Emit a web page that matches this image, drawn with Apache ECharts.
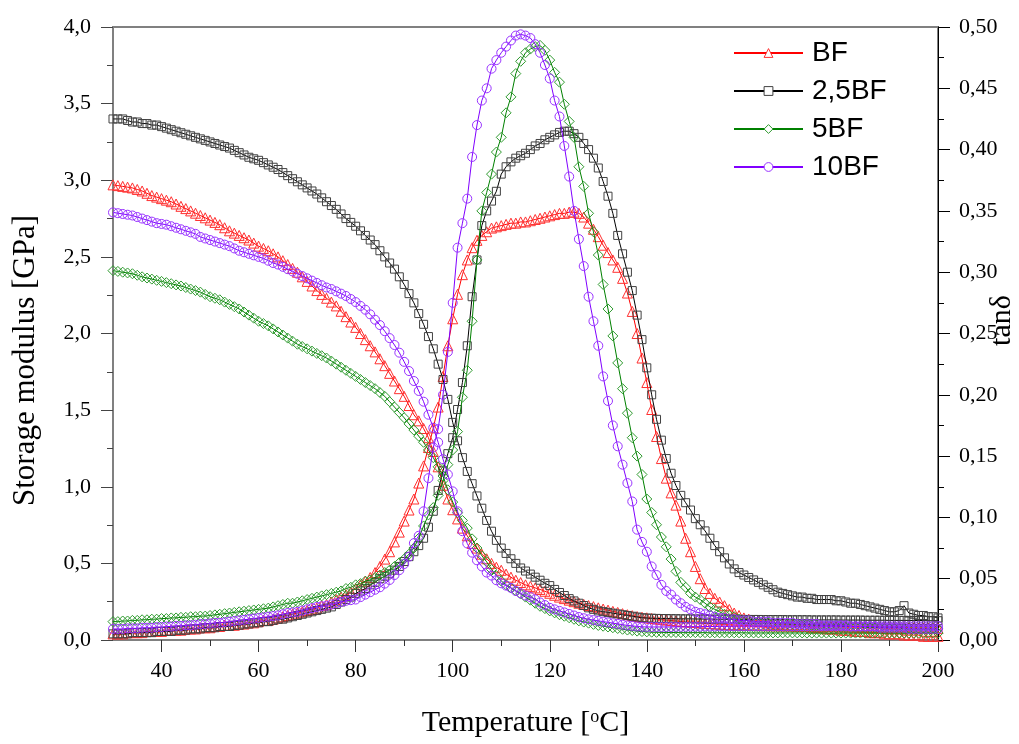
<!DOCTYPE html>
<html>
<head>
<meta charset="utf-8">
<script src="https://cdn.jsdelivr.net/npm/echarts@6/dist/echarts.min.js"></script>
<style>html,body{margin:0;padding:0;background:#fff}#c{width:1019px;height:744px}</style>
</head>
<body>
<div id="c"></div>
<script>
// Temperature grid [°C]
var temps = [30,31,32,33,34,35,36,37,38,39,40,41,42,43,44,45,46,47,48,49,50,51,52,53,54,55,56,57,58,59,60,61,62,63,64,65,66,67,68,69,70,71,72,73,74,75,76,77,78,79,80,81,82,83,84,85,86,87,88,89,90,91,92,93,94,95,96,97,98,99,100,101,102,103,104,105,106,107,108,109,110,111,112,113,114,115,116,117,118,119,120,121,122,123,124,125,126,127,128,129,130,131,132,133,134,135,136,137,138,139,140,141,142,143,144,145,146,147,148,149,150,151,152,153,154,155,156,157,158,159,160,161,162,163,164,165,166,167,168,169,170,171,172,173,174,175,176,177,178,179,180,181,182,183,184,185,186,187,188,189,190,191,192,193,194,195,196,197,198,199,200];

var seriesNames = ['BF', '2,5BF', '5BF', '10BF'];

// Storage modulus [GPa]
var modBF = [2.97,2.965,2.96,2.955,2.95,2.94,2.93,2.915,2.90,2.89,
2.88,2.87,2.86,2.845,2.83,2.815,2.80,2.785,2.77,2.755,
2.74,2.725,2.71,2.69,2.67,2.655,2.64,2.625,2.61,2.59,
2.57,2.555,2.54,2.52,2.50,2.475,2.45,2.425,2.40,2.37,
2.34,2.31,2.28,2.255,2.23,2.205,2.18,2.145,2.11,2.075,
2.04,2.00,1.96,1.92,1.88,1.835,1.79,1.74,1.69,1.64,
1.59,1.53,1.47,1.43,1.38,1.32,1.23,1.13,1.01,0.92,
0.85,0.79,0.73,0.68,0.63,0.60,0.56,0.53,0.50,0.475,
0.455,0.43,0.41,0.39,0.375,0.36,0.35,0.34,0.33,0.318,
0.305,0.292,0.28,0.27,0.26,0.25,0.24,0.232,0.225,0.218,
0.21,0.202,0.195,0.187,0.18,0.172,0.165,0.159,0.153,0.149,
0.145,0.141,0.137,0.133,0.13,0.127,0.124,0.121,0.118,0.116,
0.114,0.111,0.109,0.107,0.105,0.103,0.101,0.099,0.098,0.097,
0.096,0.095,0.095,0.094,0.094,0.093,0.093,0.092,0.092,0.091,
0.091,0.09,0.09,0.089,0.089,0.088,0.088,0.087,0.087,0.086,
0.086,0.085,0.085,0.084,0.084,0.083,0.083,0.082,0.082,0.081,
0.081,0.08,0.08,0.079,0.079,0.078,0.078,0.077,0.077,0.076,0.076];

var mod25BF = [3.40,3.40,3.40,3.39,3.38,3.38,3.37,3.37,3.36,3.36,
3.35,3.34,3.33,3.32,3.31,3.30,3.29,3.28,3.27,3.26,
3.25,3.24,3.23,3.22,3.21,3.195,3.18,3.165,3.15,3.14,
3.13,3.115,3.10,3.085,3.07,3.05,3.03,3.01,2.99,2.97,
2.95,2.93,2.91,2.885,2.86,2.835,2.81,2.78,2.75,2.725,
2.70,2.67,2.64,2.61,2.58,2.54,2.50,2.46,2.42,2.37,
2.32,2.26,2.20,2.13,2.06,1.98,1.90,1.80,1.70,1.57,
1.42,1.30,1.19,1.10,1.02,0.94,0.86,0.78,0.71,0.65,
0.60,0.565,0.53,0.50,0.47,0.45,0.43,0.41,0.39,0.37,
0.355,0.33,0.31,0.29,0.27,0.255,0.24,0.225,0.21,0.20,
0.19,0.185,0.18,0.175,0.17,0.165,0.16,0.155,0.15,0.145,
0.143,0.142,0.141,0.14,0.14,0.139,0.139,0.138,0.138,0.138,
0.137,0.137,0.137,0.136,0.136,0.136,0.135,0.135,0.135,0.135,
0.134,0.134,0.134,0.134,0.133,0.133,0.133,0.133,0.133,0.132,
0.132,0.132,0.132,0.132,0.131,0.131,0.131,0.131,0.131,0.131,
0.130,0.130,0.130,0.130,0.130,0.129,0.129,0.129,0.129,0.129,
0.128,0.128,0.128,0.128,0.128,0.127,0.127,0.127,0.127,0.127,0.126];

var mod5BF = [2.41,2.405,2.40,2.395,2.39,2.38,2.37,2.362,2.355,2.347,
2.34,2.332,2.325,2.317,2.31,2.30,2.29,2.28,2.27,2.255,
2.24,2.23,2.22,2.205,2.19,2.175,2.16,2.14,2.12,2.10,
2.08,2.065,2.05,2.03,2.01,1.99,1.97,1.95,1.93,1.915,
1.90,1.885,1.87,1.855,1.84,1.82,1.80,1.78,1.76,1.74,
1.72,1.70,1.68,1.66,1.64,1.615,1.59,1.555,1.52,1.485,
1.45,1.41,1.37,1.33,1.29,1.24,1.19,1.13,1.07,0.98,
0.90,0.83,0.78,0.73,0.66,0.60,0.55,0.51,0.46,0.42,
0.385,0.36,0.34,0.32,0.30,0.28,0.26,0.24,0.22,0.205,
0.19,0.177,0.165,0.155,0.145,0.135,0.125,0.117,0.11,0.102,
0.095,0.09,0.085,0.08,0.075,0.07,0.065,0.062,0.058,0.055,
0.053,0.051,0.05,0.05,0.049,0.049,0.049,0.048,0.048,0.048,
0.048,0.048,0.048,0.047,0.047,0.047,0.047,0.047,0.047,0.047,
0.047,0.046,0.046,0.046,0.046,0.046,0.046,0.046,0.046,0.046,
0.046,0.046,0.046,0.045,0.045,0.045,0.045,0.045,0.045,0.045,
0.045,0.045,0.045,0.045,0.045,0.045,0.045,0.045,0.045,0.045,
0.045,0.045,0.045,0.045,0.045,0.045,0.045,0.045,0.045,0.045,0.045];

var mod10BF = [2.79,2.785,2.78,2.775,2.77,2.76,2.75,2.74,2.73,2.72,
2.715,2.71,2.70,2.69,2.68,2.67,2.66,2.65,2.63,2.62,
2.61,2.60,2.59,2.58,2.57,2.555,2.54,2.53,2.52,2.51,
2.50,2.49,2.475,2.46,2.45,2.435,2.42,2.405,2.39,2.375,
2.36,2.345,2.33,2.315,2.30,2.29,2.275,2.26,2.245,2.225,
2.205,2.18,2.155,2.125,2.09,2.055,2.015,1.97,1.925,1.875,
1.815,1.755,1.69,1.625,1.555,1.47,1.385,1.29,1.18,1.08,
0.97,0.84,0.71,0.63,0.57,0.52,0.48,0.44,0.42,0.39,
0.37,0.355,0.34,0.32,0.305,0.29,0.28,0.265,0.245,0.228,
0.21,0.20,0.19,0.18,0.17,0.16,0.15,0.142,0.135,0.13,
0.125,0.12,0.115,0.11,0.105,0.10,0.095,0.092,0.088,0.086,
0.085,0.085,0.085,0.085,0.085,0.085,0.086,0.086,0.086,0.087,
0.087,0.087,0.088,0.088,0.088,0.089,0.089,0.089,0.09,0.09,
0.09,0.09,0.09,0.09,0.09,0.09,0.09,0.09,0.09,0.09,
0.09,0.09,0.09,0.09,0.09,0.09,0.09,0.09,0.09,0.09,
0.09,0.09,0.09,0.09,0.09,0.09,0.09,0.09,0.09,0.09,
0.09,0.09,0.09,0.09,0.09,0.09,0.09,0.09,0.09,0.09,0.09];

// tan delta
var tanBF = [0.005,0.005,0.005,0.006,0.006,0.006,0.006,0.007,0.007,0.007,
0.007,0.008,0.008,0.008,0.008,0.009,0.009,0.009,0.010,0.010,
0.010,0.011,0.011,0.012,0.012,0.012,0.013,0.013,0.014,0.014,
0.015,0.016,0.016,0.017,0.018,0.019,0.020,0.021,0.022,0.023,
0.024,0.025,0.026,0.028,0.029,0.031,0.033,0.035,0.037,0.039,
0.042,0.045,0.048,0.051,0.055,0.060,0.066,0.072,0.080,0.088,
0.097,0.106,0.115,0.128,0.142,0.157,0.173,0.19,0.215,0.24,
0.262,0.282,0.298,0.31,0.32,0.326,0.330,0.333,0.336,0.337,
0.338,0.339,0.340,0.340,0.341,0.341,0.342,0.343,0.344,0.345,
0.346,0.347,0.348,0.348,0.349,0.349,0.348,0.345,0.340,0.335,
0.329,0.322,0.316,0.31,0.304,0.295,0.283,0.268,0.25,0.23,
0.21,0.188,0.166,0.148,0.132,0.12,0.11,0.097,0.083,0.072,
0.06,0.05,0.042,0.038,0.034,0.031,0.028,0.025,0.022,0.020,
0.018,0.017,0.016,0.015,0.015,0.014,0.014,0.013,0.013,0.012,
0.012,0.011,0.011,0.011,0.010,0.010,0.010,0.009,0.009,0.009,
0.008,0.008,0.008,0.007,0.007,0.007,0.006,0.006,0.006,0.005,
0.005,0.005,0.005,0.004,0.004,0.004,0.004,0.003,0.003,0.003,0.003];

var tan25BF = [0.005,0.005,0.005,0.005,0.006,0.006,0.006,0.006,0.006,0.007,
0.007,0.007,0.007,0.008,0.008,0.008,0.009,0.009,0.009,0.010,
0.010,0.010,0.011,0.011,0.011,0.012,0.012,0.013,0.013,0.014,
0.014,0.015,0.015,0.016,0.017,0.017,0.018,0.019,0.020,0.021,
0.022,0.023,0.024,0.025,0.026,0.027,0.029,0.031,0.033,0.035,
0.038,0.040,0.042,0.045,0.047,0.050,0.052,0.054,0.057,0.060,
0.064,0.068,0.072,0.077,0.083,0.092,0.105,0.122,0.138,0.152,
0.165,0.188,0.21,0.24,0.28,0.31,0.338,0.35,0.358,0.366,
0.38,0.386,0.39,0.393,0.395,0.397,0.40,0.403,0.405,0.408,
0.41,0.412,0.414,0.415,0.415,0.413,0.41,0.405,0.40,0.393,
0.385,0.374,0.362,0.348,0.33,0.315,0.30,0.285,0.265,0.245,
0.222,0.20,0.18,0.163,0.148,0.136,0.126,0.118,0.112,0.106,
0.099,0.094,0.089,0.083,0.077,0.072,0.067,0.062,0.058,0.055,
0.053,0.051,0.049,0.047,0.045,0.043,0.041,0.039,0.038,0.037,
0.036,0.035,0.035,0.034,0.034,0.033,0.033,0.033,0.033,0.032,
0.032,0.031,0.030,0.030,0.029,0.028,0.027,0.026,0.025,0.024,
0.023,0.023,0.024,0.028,0.022,0.021,0.020,0.020,0.019,0.019,0.018];

var tan5BF = [0.015,0.015,0.0155,0.0155,0.016,0.016,0.0165,0.0165,0.017,0.017,
0.0175,0.0175,0.018,0.018,0.0185,0.0185,0.019,0.019,0.0195,0.0195,
0.020,0.0205,0.021,0.0215,0.022,0.0225,0.023,0.0235,0.024,0.0245,
0.025,0.0255,0.026,0.027,0.028,0.029,0.030,0.030,0.031,0.032,
0.033,0.034,0.035,0.036,0.037,0.038,0.039,0.040,0.042,0.043,
0.045,0.046,0.048,0.049,0.051,0.053,0.055,0.057,0.060,0.063,
0.066,0.070,0.075,0.083,0.093,0.102,0.108,0.118,0.13,0.143,
0.155,0.17,0.198,0.22,0.26,0.31,0.35,0.365,0.38,0.398,
0.41,0.43,0.443,0.462,0.472,0.479,0.482,0.484,0.485,0.481,
0.473,0.463,0.455,0.437,0.423,0.41,0.386,0.37,0.348,0.333,
0.314,0.29,0.27,0.248,0.226,0.205,0.185,0.165,0.15,0.135,
0.115,0.104,0.094,0.084,0.076,0.066,0.056,0.047,0.043,0.038,
0.035,0.033,0.030,0.027,0.025,0.023,0.021,0.020,0.019,0.017,
0.016,0.016,0.015,0.015,0.015,0.014,0.014,0.014,0.014,0.013,
0.013,0.013,0.013,0.013,0.012,0.012,0.012,0.012,0.012,0.012,
0.011,0.011,0.011,0.011,0.011,0.010,0.010,0.010,0.010,0.010,
0.010,0.010,0.010,0.009,0.009,0.009,0.009,0.009,0.009,0.009,0.009];

var tan10BF = [0.009,0.009,0.009,0.0095,0.0095,0.0095,0.010,0.010,0.010,0.0105,
0.0105,0.011,0.011,0.0115,0.0115,0.012,0.012,0.0125,0.013,0.013,
0.0135,0.014,0.014,0.0145,0.015,0.0155,0.016,0.0165,0.017,0.0175,
0.018,0.0185,0.019,0.0195,0.020,0.021,0.022,0.0225,0.023,0.024,
0.025,0.026,0.027,0.0275,0.028,0.029,0.030,0.031,0.032,0.0325,
0.033,0.035,0.037,0.039,0.041,0.043,0.046,0.049,0.053,0.057,
0.062,0.068,0.079,0.085,0.105,0.132,0.157,0.172,0.20,0.235,
0.275,0.32,0.34,0.36,0.394,0.42,0.44,0.45,0.466,0.473,
0.479,0.484,0.489,0.493,0.494,0.493,0.491,0.486,0.479,0.469,
0.458,0.44,0.427,0.403,0.378,0.35,0.327,0.305,0.28,0.26,
0.24,0.215,0.195,0.175,0.158,0.143,0.128,0.113,0.09,0.08,
0.072,0.06,0.053,0.045,0.04,0.037,0.033,0.030,0.027,0.025,
0.023,0.022,0.021,0.020,0.019,0.018,0.018,0.017,0.017,0.016,
0.016,0.016,0.015,0.015,0.015,0.015,0.014,0.014,0.014,0.014,
0.014,0.013,0.013,0.013,0.013,0.013,0.012,0.012,0.012,0.012,
0.012,0.012,0.011,0.011,0.011,0.011,0.011,0.011,0.010,0.010,
0.010,0.010,0.010,0.010,0.009,0.009,0.009,0.009,0.009,0.009,0.009];

// Axis ticks
var xMajorTicks = [40,60,80,100,120,140,160,180,200];
var xMinorTicks = [50,70,90,110,130,150,170,190];

var colors = ['#ff0000', '#000000', '#008000', '#8000ff'];
var markerColors = ['#ff3030', '#404040', '#2e9a2e', '#9933ff'];
var symbols = ['triangle', 'rect', 'diamond', 'circle'];
var symbolSizes = [10, 8, 10, 9];

var modSets = [modBF, mod25BF, mod5BF, mod10BF];
var tanSets = [tanBF, tan25BF, tan5BF, tan10BF];

function pairs(arr) {
  return temps.map(function (t, i) { return [t, arr[i]]; });
}

var serif = 'Liberation Serif, Times New Roman, serif';
var sans = 'Liberation Sans, Arial, sans-serif';

var series = [];
for (var k = 0; k < 4; k++) {
  var common = {
    type: 'line',
    name: seriesNames[k],
    symbol: symbols[k],
    symbolSize: symbolSizes[k],
    showAllSymbol: true,
    lineStyle: { color: colors[k], width: 1 },
    itemStyle: { color: 'rgba(255,255,255,0)', borderColor: markerColors[k], borderWidth: 1 },
    emphasis: { disabled: true },
    z: 2 + k
  };
  series.push(Object.assign({}, common, { yAxisIndex: 0, xAxisIndex: 0, data: pairs(modSets[k]) }));
  series.push(Object.assign({}, common, { yAxisIndex: 1, xAxisIndex: 0, data: pairs(tanSets[k]) }));
}

var legendData = seriesNames.map(function (n, k) {
  return { name: n, itemStyle: { color: '#ffffff', borderColor: markerColors[k], borderWidth: 1 } };
});

var chart = echarts.init(document.getElementById('c'), null, { renderer: 'canvas' });
chart.setOption({
  animation: false,
  backgroundColor: '#ffffff',
  grid: { left: 113, right: 81, top: 27, bottom: 104, show: true, borderColor: '#808080', borderWidth: 2,
          containLabel: false, outerBoundsMode: 'none' },
  legend: {
    data: legendData,
    orient: 'vertical',
    left: 733, top: 39,
    padding: 0,
    itemWidth: 69, itemHeight: 11, itemGap: 10,
    textStyle: { fontFamily: sans, fontSize: 28, color: '#000', lineHeight: 28, padding: [0, 0, 0, 4] }
  },
  xAxis: [{
    type: 'value', min: 30, max: 200, position: 'bottom',
    name: 'Temperature [{sup|o}C]', nameLocation: 'middle', nameGap: 68, nameMoveOverlap: false,
    nameTextStyle: { fontFamily: serif, fontSize: 30, color: '#000',
      rich: { sup: { fontFamily: serif, fontSize: 18, color: '#000', verticalAlign: 'top', padding: [0, 0, 12, 0] } } },
    axisLine: { show: true, onZero: false, lineStyle: { color: '#808080', width: 2 } },
    axisTick: { show: true, customValues: xMajorTicks, length: 12, lineStyle: { color: '#333', width: 1 } },
    axisLabel: { customValues: xMajorTicks, margin: 20, fontFamily: serif, fontSize: 22, color: '#000' },
    splitLine: { show: false }
  }, {
    type: 'value', min: 30, max: 200, position: 'bottom',
    axisLine: { show: false, onZero: false },
    axisTick: { show: true, customValues: xMinorTicks, length: 6, lineStyle: { color: '#333', width: 1 } },
    axisLabel: { show: false },
    splitLine: { show: false }
  }],
  yAxis: [{
    type: 'value', min: 0, max: 4, interval: 0.5, position: 'left',
    name: 'Storage modulus [GPa]', nameLocation: 'middle', nameGap: 72, nameRotate: 90, nameMoveOverlap: false,
    nameTextStyle: { fontFamily: serif, fontSize: 31, color: '#000', padding: [0, 54, 0, 0] },
    axisLine: { show: true, onZero: false, lineStyle: { color: '#808080', width: 2 } },
    axisTick: { show: true, length: 12, lineStyle: { color: '#444', width: 1 } },
    minorTick: { show: true, splitNumber: 2, length: 6, lineStyle: { color: '#444', width: 1 } },
    axisLabel: { margin: 22, fontFamily: serif, fontSize: 22, color: '#000',
      formatter: function (v) { return v.toFixed(1).replace('.', ','); } },
    splitLine: { show: false }
  }, {
    type: 'value', min: 0, max: 0.5, interval: 0.05, position: 'right',
    name: 'tanδ', nameLocation: 'middle', nameGap: 49, nameRotate: 90, nameMoveOverlap: false,
    nameTextStyle: { fontFamily: serif, fontSize: 30, color: '#000', padding: [0, 0, 0, 26] },
    axisLine: { show: true, onZero: false, lineStyle: { color: '#000', width: 1 } },
    axisTick: { show: true, length: 12, lineStyle: { color: '#000', width: 1 } },
    minorTick: { show: true, splitNumber: 2, length: 6, lineStyle: { color: '#000', width: 1 } },
    axisLabel: { margin: 21, fontFamily: serif, fontSize: 22, color: '#000',
      formatter: function (v) { return v.toFixed(2).replace('.', ','); } },
    splitLine: { show: false }
  }],
  series: series
});
</script>
</body>
</html>
